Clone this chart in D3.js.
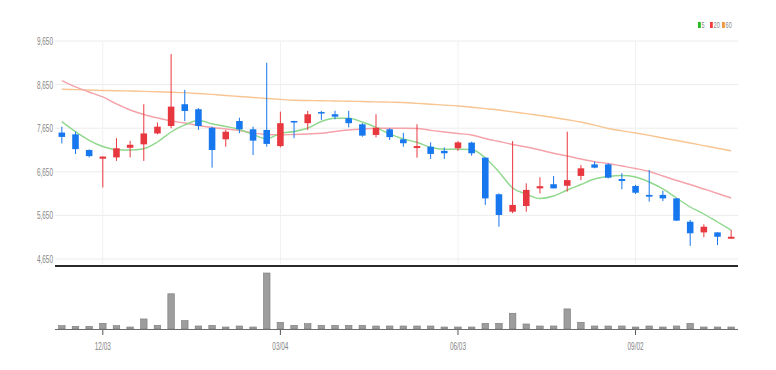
<!DOCTYPE html>
<html>
<head>
<meta charset="utf-8">
<script src="https://cdn.jsdelivr.net/npm/d3@7"></script>
<style>
html,body{margin:0;padding:0;background:#fff;}
svg{display:block;}
text{font-family:"Liberation Sans","DejaVu Sans",sans-serif;}
</style>
</head>
<body>
<svg id="chart" width="776" height="370"></svg>
<script>
// ---- data (weekly) ----
const categories = ["11/12","11/19","11/26","12/03","12/10","12/17","12/24","12/31","01/07","01/14",
  "01/21","01/28","02/04","02/11","02/18","02/25","03/04","03/11","03/18","03/25",
  "04/01","04/08","04/15","04/22","04/29","05/06","05/13","05/20","05/27","06/03",
  "06/10","06/17","06/24","07/01","07/08","07/15","07/22","07/29","08/05","08/12",
  "08/19","08/26","09/02","09/09","09/16","09/23","09/30","10/07","10/14","10/21"];
const openV  = [7550,7510,7150,6950,6980,7200,7280,7530,7700,8200,
  8085,7660,7395,7815,7625,7610,7240,7815,7765,8020,
  7970,7880,7740,7495,7625,7395,7195,7225,7130,7190,
  7320,6975,6135,5735,5865,6270,6365,6330,6555,6820,
  6820,6485,6325,6120,6120,6040,5505,5260,5260,5115];
const highV  = [7685,7570,7165,7000,7420,7360,8200,7780,9350,8530,
  8110,7685,7610,7890,7685,9150,8030,7820,8045,8045,
  8050,8050,7765,7970,7650,7545,7740,7325,7210,7355,
  7340,6975,6155,7355,6385,6525,6555,7570,6805,6880,
  6845,6615,6350,6690,6215,6045,5545,5445,5265,5315];
const lowV   = [7300,7060,6980,6290,6900,6980,6900,7510,7650,7815,
  7610,6745,7225,7535,7035,7225,7210,7420,7610,7840,
  7855,7670,7455,7440,7380,7225,6975,6945,6945,7130,
  7020,5890,5390,5700,5735,6155,6270,6195,6460,6730,
  6500,6250,6140,5965,5980,5525,4950,5150,4970,5115];
const closeV = [7450,7170,7010,7000,7190,7270,7530,7685,8145,8045,
  7700,7150,7570,7625,7365,7290,7765,7780,7970,7990,
  7915,7765,7480,7660,7445,7305,7240,7060,7075,7325,
  7075,6040,5660,5890,6235,6320,6270,6460,6730,6745,
  6515,6440,6170,6080,6040,5530,5240,5390,5160,5160];
const ma5  = [7800,7570,7373,7231,7157,7150,7180,7334,7563,7724,
  7827,7751,7690,7621,7506,7407,7534,7575,7655,7804,
  7878,7878,7793,7671,7518,7403,7327,7212,7167,7167,
  7162,6967,6646,6279,6141,6038,6095,6233,6359,6485,
  6543,6565,6531,6416,6256,6049,5843,5682,5499,5315];
const ma20 = [8740,8596,8481,8366,8206,8068,7965,7885,7816,7770,
  7712,7667,7632,7598,7540,7506,7495,7506,7518,7534,
  7575,7609,7632,7648,7648,7648,7644,7602,7563,7529,
  7495,7414,7345,7277,7219,7150,7075,7013,6944,6882,
  6841,6783,6726,6657,6554,6451,6359,6256,6153,6049];
const ma60 = [8543,8535,8525,8515,8510,8504,8495,8485,8475,8465,
  8445,8425,8400,8378,8355,8332,8310,8291,8285,8280,
  8275,8268,8261,8254,8247,8240,8220,8200,8180,8160,
  8130,8100,8068,8025,7985,7942,7895,7845,7793,7720,
  7644,7590,7540,7485,7425,7368,7310,7250,7190,7134];
const volume = [70,50,50,140,70,30,270,80,1020,220,
  60,80,30,60,30,1640,170,80,130,80,
  80,80,80,60,60,60,60,60,30,30,
  30,140,140,440,120,60,60,570,170,60,
  60,60,30,60,30,60,140,30,30,30];
const priceTicks = [4650,5650,6650,7650,8650,9650];
const dateTicks = ["12/03","03/04","06/03","09/02"];
const legendLabels = ["5","20","60"];

// ---- styles ----
const UP = "#e8383f", DOWN = "#1677ee";
const maColors = ["#8fd88c","#f5a2a9","#f8c592"];

const svg = d3.select("#chart");
const x = d3.scaleBand().domain(categories).range([55, 738]).paddingInner(0.52).paddingOuter(0.26);
const y = d3.scaleLinear().domain([4650, 9650]).range([259, 41]);
const yv = d3.scaleLinear().domain([0, d3.max(volume)]).range([329, 274]);
const cx = c => x(c) + x.bandwidth() / 2;

// grid
svg.append("g").selectAll("line").data(priceTicks).join("line")
  .attr("x1", 55).attr("x2", 738).attr("y1", d => y(d)).attr("y2", d => y(d))
  .attr("stroke", "#ececec").attr("stroke-width", 1);
svg.append("g").selectAll("line").data(dateTicks).join("line")
  .attr("x1", d => cx(d)).attr("x2", d => cx(d)).attr("y1", y(9650)).attr("y2", 264)
  .attr("stroke", "#f1f1f1").attr("stroke-width", 1);

// y labels (narrow)
svg.append("g").selectAll("text").data(priceTicks).join("text")
  .attr("transform", d => `translate(53,${y(d) + 4}) scale(0.56,1)`)
  .attr("text-anchor", "end").attr("font-size", 11.5).attr("fill", "#858585")
  .text(d => d3.format(",")(d));

// MA lines
[ma60, ma20, ma5].forEach((arr, k) => {
  const col = [maColors[2], maColors[1], maColors[0]][k];
  svg.append("path").datum(arr)
    .attr("fill", "none").attr("stroke", col).attr("stroke-width", 1.4)
    .attr("d", d3.line().x((d, i) => cx(categories[i])).y(d => y(d)).curve(d3.curveMonotoneX));
});

// candles
const candles = svg.append("g").selectAll("g").data(categories).join("g");
candles.append("line")
  .attr("x1", c => cx(c)).attr("x2", c => cx(c))
  .attr("y1", (c, i) => y(highV[i])).attr("y2", (c, i) => y(lowV[i]))
  .attr("stroke", (c, i) => closeV[i] >= openV[i] ? UP : DOWN).attr("stroke-width", 1);
candles.append("rect")
  .attr("x", c => x(c)).attr("width", x.bandwidth())
  .attr("y", (c, i) => y(Math.max(openV[i], closeV[i])))
  .attr("height", (c, i) => Math.max(1.5, Math.abs(y(openV[i]) - y(closeV[i]))))
  .attr("fill", (c, i) => closeV[i] >= openV[i] ? UP : DOWN);

// separator
svg.append("line").attr("x1", 55).attr("x2", 738).attr("y1", 266).attr("y2", 266)
  .attr("stroke", "#2a2a2a").attr("stroke-width", 2);

// volume
svg.append("g").selectAll("rect").data(categories).join("rect")
  .attr("x", c => x(c)).attr("width", x.bandwidth())
  .attr("y", (c, i) => yv(volume[i]) - 1)
  .attr("height", (c, i) => 329 - yv(volume[i]) + 1)
  .attr("fill", "#9d9d9d").attr("stroke", "#7a7a7a").attr("stroke-width", 0.6);
svg.append("line").attr("x1", 55).attr("x2", 738).attr("y1", 329.5).attr("y2", 329.5)
  .attr("stroke", "#6d6d6d").attr("stroke-width", 1.2);

// x axis ticks + labels
svg.append("g").selectAll("line").data(dateTicks).join("line")
  .attr("x1", d => cx(d)).attr("x2", d => cx(d)).attr("y1", 330).attr("y2", 335)
  .attr("stroke", "#555").attr("stroke-width", 1);
svg.append("g").selectAll("text").data(dateTicks).join("text")
  .attr("transform", d => `translate(${cx(d)},350) scale(0.56,1)`)
  .attr("text-anchor", "middle").attr("font-size", 11.5).attr("fill", "#858585")
  .text(d => d);

// legend
const lg = svg.append("g");
const lx = [698, 710, 722];
legendLabels.forEach((t, i) => {
  lg.append("rect").attr("x", lx[i]).attr("y", 22).attr("width", 2.8).attr("height", 6)
    .attr("fill", ["#22bb22","#f03c3c","#f0963c"][i]);
  lg.append("text").attr("transform", `translate(${lx[i] + 3.6},28.2) scale(0.62,1)`)
    .attr("font-size", 9).attr("fill", "#888").text(t);
});
</script>
</body>
</html>
